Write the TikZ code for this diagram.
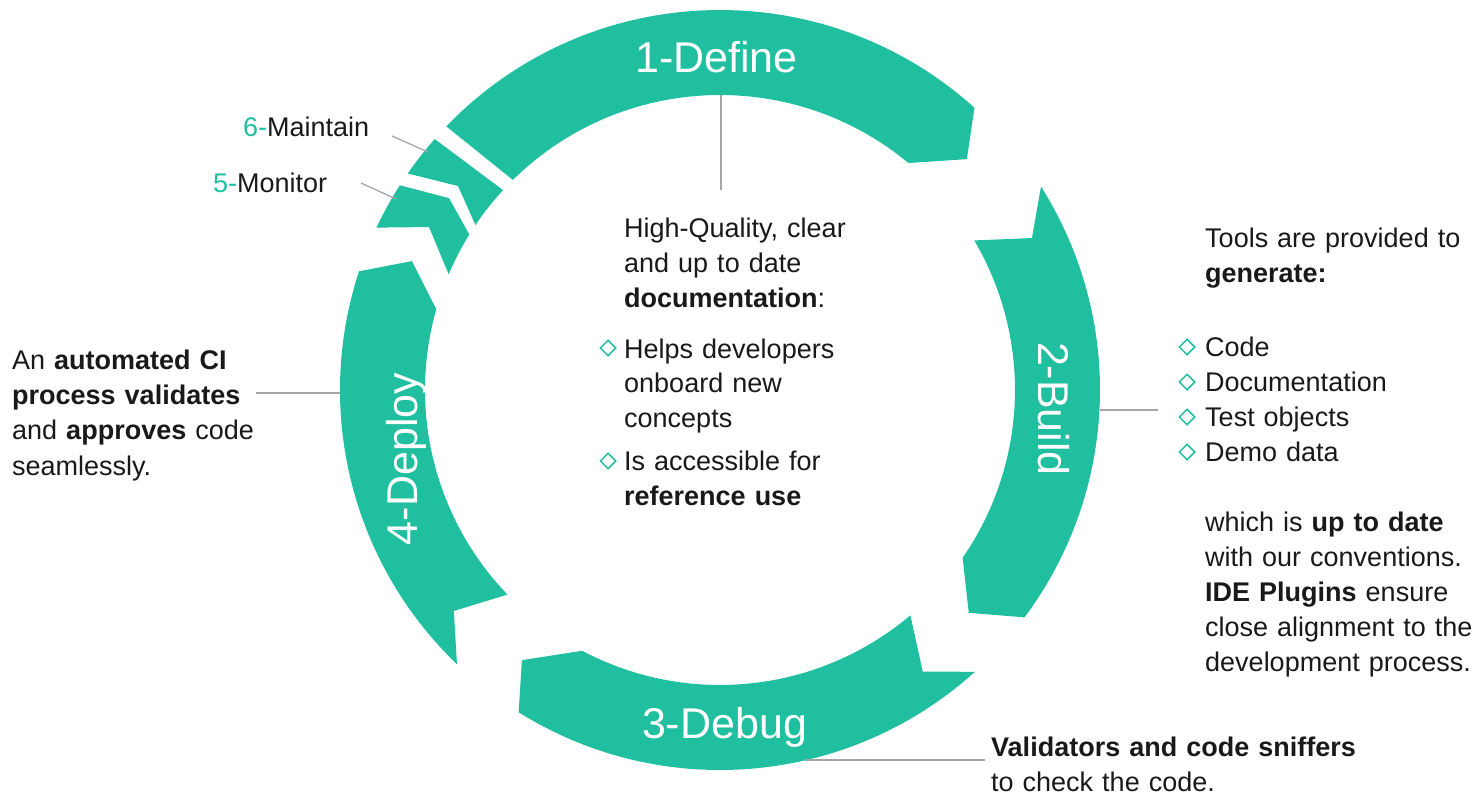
\documentclass[tikz,border=0pt]{standalone}
\usepackage{fontspec}
\setmainfont{Liberation Sans}
\usetikzlibrary{shapes.geometric}
\definecolor{teal1}{RGB}{32,191,160}
\definecolor{txt}{RGB}{25,25,25}
\definecolor{lgray}{RGB}{165,165,170}
\tikzset{
  seg/.style={fill=teal1, draw=none},
  title/.style={text=white, font=\fontsize{43}{48}\selectfont, inner sep=0pt, anchor=base},
  body/.style={text=txt, font=\fontsize{27}{35}\selectfont, inner sep=0pt, anchor=base west, align=left, text width=420pt},
  conn/.style={draw=lgray, line width=1.3pt},
  bul/.style={diamond, draw=teal1, line width=1.5pt, minimum width=16pt, minimum height=16pt, inner sep=0pt}
}
\begin{document}
\begin{tikzpicture}[x=1pt,y=-1pt]
\useasboundingbox (0,0) rectangle (1478,794);
% ring segments
\begin{scope}[shift={(720,390)}, y=1pt]
  \fill[seg] (136.07:380) arc[start angle=136.07, end angle=47.96, radius=380] -- (43.08:338) -- (50.3:295) arc[start angle=50.3, end angle=134.6, radius=295] -- cycle;
  \fill[seg] (32.36:380) arc[start angle=32.36, end angle=-36.75, radius=380] -- (-41.85:334) -- (-34.66:295) arc[start angle=-34.66, end angle=30.47, radius=295] -- (25.97:347) -- cycle;
  \fill[seg] (-47.87:380) arc[start angle=-47.87, end angle=-122, radius=380] -- (-126.25:335) -- (-117.87:295) arc[start angle=-117.87, end angle=-49.8, radius=295] -- (-54.25:347) -- cycle;
  \fill[seg] (226.2:380) arc[start angle=226.2, end angle=161.8, radius=380] -- (157.3:334) -- (164.1:295) arc[start angle=164.1, end angle=223.9, radius=295] -- (219.7:346) -- cycle;
  \fill[seg] (154.7:380) arc[start angle=154.7, end angle=147.4, radius=380] -- (144.7:332) -- (148.2:295) arc[start angle=148.2, end angle=156.9, radius=295] -- (150.75:333.5) -- cycle;
  \fill[seg] (145.26:380) arc[start angle=145.26, end angle=138.66, radius=380] -- (137.35:295) arc[start angle=137.35, end angle=146.0, radius=295] -- (142.1:332) -- cycle;
\end{scope}
% titles
\node[title] (t1) at (716.5,73) {1-Define};
\node[title, rotate=-90] (t2) at (1038,409) {2-Build};
\node[title] (t3) at (724.5,738) {3-Debug};
\node[title, rotate=90] (t4) at (417,459) {4-Deploy};
% small labels
\node[body] (m6) at (243,137) {\textcolor{teal1}{6-}Maintain};
\node[body] (m5) at (213,193) {\textcolor{teal1}{5-}Monitor};
% connectors
\coordinate (c1a) at (721,95);  \coordinate (c1b) at (721,190);
\coordinate (c2a) at (1100,410); \coordinate (c2b) at (1158,410);
\coordinate (c3a) at (805,760); \coordinate (c3b) at (985,760);
\coordinate (c4a) at (340,393); \coordinate (c4b) at (256,393);
\coordinate (c6a) at (428,152); \coordinate (c6b) at (392,136);
\coordinate (c5a) at (396,199); \coordinate (c5b) at (361,183);
\draw[conn] (c1a) -- (c1b);
\draw[conn] (c2a) -- (c2b);
\draw[conn] (c3a) -- (c3b);
\draw[conn] (c4a) -- (c4b);
\draw[conn] (c6a) -- (c6b);
\draw[conn] (c5a) -- (c5b);
% centre text
\node[body] (ca) at (624,238) {High-Quality, clear\\and up to date\\\textbf{documentation}:};
\node[body] (cb) at (624,358) {Helps developers\\onboard new\\concepts};
\node[body] (cc) at (624,470) {Is accessible for\\\textbf{reference use}};
\node[bul] (cb1) at (608,348) {};
\node[bul] (cb2) at (608,461) {};
% right text
\node[body] (ra) at (1205,248) {Tools are provided to\\\textbf{generate:}};
\node[body] (rb) at (1205,356) {Code\\Documentation\\Test objects\\Demo data};
\node[bul] (rb1) at (1187,347) {};
\node[bul] (rb2) at (1187,382) {};
\node[bul] (rb3) at (1187,417) {};
\node[bul] (rb4) at (1187,452) {};
\node[body] (rc) at (1205,531) {which is \textbf{up to date}\\with our conventions.\\\textbf{IDE Plugins} ensure\\close alignment to the\\development process.};
% left text
\node[body] (la) at (12,370) {An \textbf{automated CI}\\\textbf{process validates}\\and \textbf{approves} code\\seamlessly.};
% bottom text
\node[body] (ba) at (991,756) {\textbf{Validators and code sniffers}\\to check the code.};
\end{tikzpicture}
\end{document}
